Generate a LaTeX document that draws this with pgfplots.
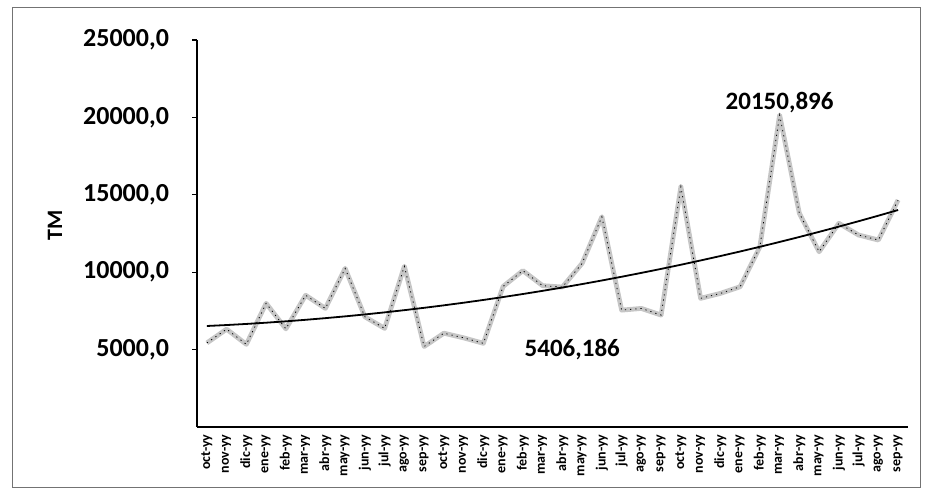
\documentclass[border=0pt]{standalone}
\usepackage{fontspec}
\setmainfont{Carlito}
\usepackage{pgfplots}
\usepackage{pgfplotstable}
\pgfplotsset{compat=1.18}

% monthly tonnage (TM) and its trend line
\pgfplotstableread{
i tm trend
0 5430 6525
1 6320 6587
2 5340 6658
3 7990 6738
4 6340 6827
5 8510 6925
6 7660 7032
7 10250 7147
8 7120 7272
9 6370 7405
10 10380 7548
11 5200 7700
12 6060 7860
13 5760 8029
14 5406.186 8207
15 9080 8395
16 10100 8591
17 9130 8796
18 9040 9010
19 10570 9233
20 13580 9465
21 7550 9706
22 7660 9956
23 7230 10214
24 15520 10482
25 8310 10759
26 8630 11044
27 9060 11338
28 11640 11642
29 20150.896 11954
30 13800 12276
31 11320 12606
32 13160 12946
33 12400 13294
34 12080 13651
35 14660 14018
}\datatable

\begin{document}
\begin{tikzpicture}[x=1pt,y=1pt]
\useasboundingbox (0,0) rectangle (462.5,246.5);
\draw[black!55, line width=0.4pt] (6,3) rectangle (460,243);
\begin{axis}[
  at={(98.5pt,33pt)}, anchor=south west,
  scale only axis, width=355.5pt, height=193.5pt,
  xmin=-0.5, xmax=35.5, ymin=0, ymax=25000,
  axis x line=bottom, axis y line=left,
  axis line style={-, black, line width=0.6pt},
  xtick={0,...,35},
  xticklabels={oct-yy,nov-yy,dic-yy,ene-yy,feb-yy,mar-yy,abr-yy,may-yy,jun-yy,jul-yy,ago-yy,sep-yy,
               oct-yy,nov-yy,dic-yy,ene-yy,feb-yy,mar-yy,abr-yy,may-yy,jun-yy,jul-yy,ago-yy,sep-yy,
               oct-yy,nov-yy,dic-yy,ene-yy,feb-yy,mar-yy,abr-yy,may-yy,jun-yy,jul-yy,ago-yy,sep-yy},
  x tick label style={rotate=90, anchor=east, font=\bfseries\fontsize{7}{8}\selectfont, inner sep=1pt},
  major x tick style={draw=none},
  ytick={5000,10000,...,25000},
  scaled y ticks=false,
  y tick label style={font=\bfseries\fontsize{13}{15}\selectfont, xshift=-8pt},
  /pgf/number format/fixed, /pgf/number format/fixed zerofill,
  /pgf/number format/precision=1, /pgf/number format/use comma,
  /pgf/number format/1000 sep={}, /pgf/number format/assume math mode=true,
  tick align=outside, major tick length=2.5pt,
  tick style={black, line width=0.6pt},
  ylabel={TM},
  ylabel style={font=\bfseries\fontsize{11}{13}\selectfont, at={(axis description cs:0,0.52)}, anchor=center, yshift=71pt},
  clip=false,
]
\addplot[gray!45, line width=2.4pt, line join=round] table[x=i, y=tm]{\datatable};
\addplot[black, line width=0.4pt, dash pattern=on 0.6pt off 2pt] table[x=i, y=tm]{\datatable};
\addplot[black, line width=0.9pt] table[x=i, y=trend]{\datatable};
\node[anchor=south, font=\bfseries\fontsize{12.5}{14}\selectfont, inner sep=1pt] at (axis cs:29,20150.896) {20150,896};
\node[font=\bfseries\fontsize{12.5}{14}\selectfont] at (axis cs:18.5,4975) {5406,186};
\end{axis}
\end{tikzpicture}
\end{document}
